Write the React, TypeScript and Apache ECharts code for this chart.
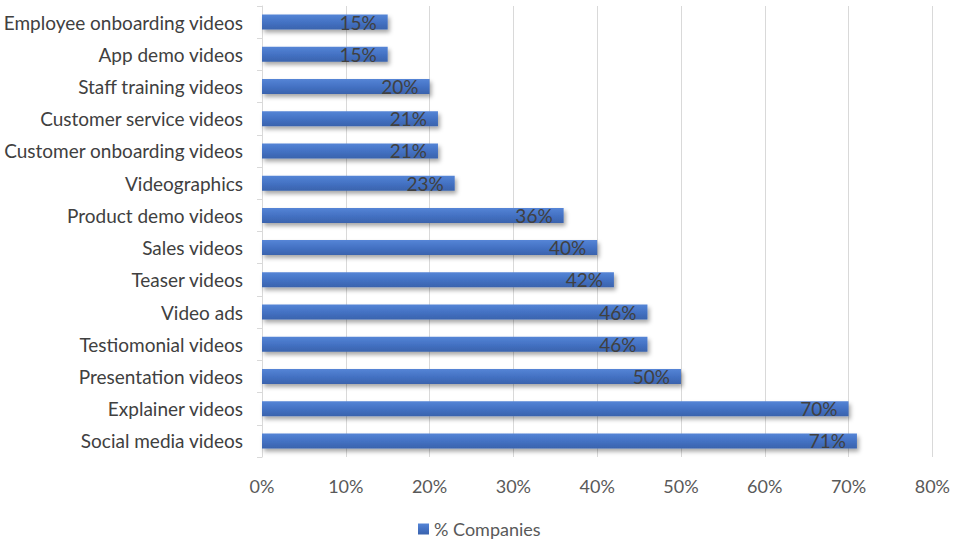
import React, { useEffect, useRef } from "react";
import * as echarts from "echarts";

const categories = [
  "Employee onboarding videos",
  "App demo videos",
  "Staff training videos",
  "Customer service videos",
  "Customer onboarding videos",
  "Videographics",
  "Product demo videos",
  "Sales videos",
  "Teaser videos",
  "Video ads",
  "Testiomonial videos",
  "Presentation videos",
  "Explainer videos",
  "Social media videos",
];
const values = [15, 15, 20, 21, 21, 23, 36, 40, 42, 46, 46, 50, 70, 71];
const seriesName = "% Companies";

const FONT = "Lato, 'Open Sans', sans-serif";

export default function App() {
  const ref = useRef<HTMLDivElement>(null);
  useEffect(() => {
    document.body.style.margin = "0";
    if (!ref.current) return;
    const chart = echarts.init(ref.current, undefined, { renderer: "svg" });
    chart.setOption({
      animation: false,
      grid: { left: 262, right: 19, top: 6, bottom: 84, containLabel: false },
      legend: {
        top: 520,
        left: 418,
        padding: 0,
        itemWidth: 11,
        itemHeight: 11,
        itemGap: 4,
        icon: "rect",
        textStyle: { color: "#595959", fontSize: 18, fontFamily: FONT },
        data: [seriesName],
      },
      xAxis: {
        type: "value",
        min: 0,
        max: 80,
        interval: 10,
        axisLine: { show: false },
        axisTick: { show: false },
        splitLine: { lineStyle: { color: "#d9d9d9", width: 1 } },
        axisLabel: {
          formatter: "{value}%",
          color: "#595959",
          fontSize: 18,
          fontFamily: FONT,
          margin: 20,
        },
      },
      yAxis: {
        type: "category",
        inverse: true,
        data: categories,
        axisLine: { show: true, lineStyle: { color: "#d9d9d9" } },
        axisTick: { show: true, length: 5, lineStyle: { color: "#d9d9d9" } },
        axisLabel: {
          color: "#404040",
          fontSize: 19,
          fontFamily: FONT,
          margin: 19,
        },
      },
      series: [
        {
          name: seriesName,
          type: "bar",
          data: values,
          barWidth: 15,
          itemStyle: {
            color: new echarts.graphic.LinearGradient(0, 0, 0, 1, [
              { offset: 0, color: "#5585d6" },
              { offset: 0.5, color: "#4472C4" },
              { offset: 1, color: "#3a63ad" },
            ]),
            shadowColor: "rgba(0,0,0,0.35)",
            shadowBlur: 4,
            shadowOffsetX: 2,
            shadowOffsetY: 3,
          },
          label: {
            show: true,
            position: "insideRight",
            distance: 11,
            formatter: "{c}%",
            color: "#404040",
            fontSize: 19,
            fontFamily: FONT,
          },
        },
      ],
    });
    return () => chart.dispose();
  }, []);
  return <div ref={ref} style={{ width: 953, height: 541 }} />;
}
